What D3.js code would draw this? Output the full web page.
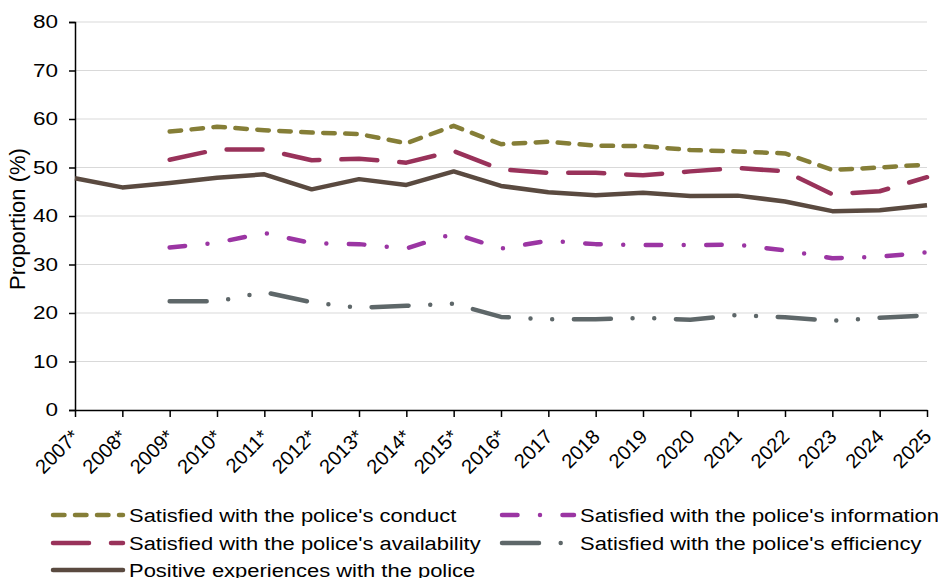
<!DOCTYPE html>
<html>
<head>
<meta charset="utf-8">
<script src="https://cdn.jsdelivr.net/npm/d3@7"></script>
<style>
  html, body { margin: 0; padding: 0; background: #fff; }
  svg { display: block; font-family: "Liberation Sans", Arial, sans-serif; }
</style>
</head>
<body>
<svg id="chart" width="938" height="578"></svg>
<script>
const years = ["2007*","2008*","2009*","2010*","2011*","2012*","2013*","2014*","2015*","2016*","2017","2018","2019","2020","2021","2022","2023","2024","2025"];
const yTicks = [0,10,20,30,40,50,60,70,80];

const conduct      = [null,null,57.4,58.4,57.7,57.2,56.9,55.0,58.6,54.8,55.3,54.5,54.4,53.6,53.3,52.9,49.5,50.0,50.6];
const availability = [null,null,51.6,53.7,53.7,51.5,51.8,51.0,53.4,49.6,48.9,48.9,48.4,49.2,49.9,49.2,44.5,45.1,48.0];
const positive     = [47.8,45.9,46.8,47.9,48.6,45.5,47.6,46.4,49.2,46.2,44.9,44.3,44.8,44.1,44.2,43.0,41.0,41.2,42.2];
const information  = [null,null,33.5,34.5,36.5,34.4,34.2,33.3,36.4,33.3,34.9,34.2,34.0,34.0,34.1,32.9,31.3,31.6,32.5];
const efficiency   = [null,null,22.4,22.4,24.3,22.2,21.1,21.5,21.9,19.2,18.7,18.7,19.0,18.6,19.6,19.1,18.4,19.0,19.5];

const seriesNames = [
  "Satisfied with the police's conduct",
  "Satisfied with the police's availability",
  "Positive experiences with the police",
  "Satisfied with the police's information",
  "Satisfied with the police's efficiency"
];

const series = [
  {name: seriesNames[0], values: conduct,      color: "#857e37", dash: "11.5,10.5"},
  {name: seriesNames[1], values: availability, color: "#99325a", dash: "36,22"},
  {name: seriesNames[2], values: positive,     color: "#5a4a40", dash: null},
  {name: seriesNames[3], values: information,  color: "#9b35a3", dash: "15.5,22.5,0,22.5"},
  {name: seriesNames[4], values: efficiency,   color: "#5e6769", dash: "37,21.7,0,21.7,0,21.7"}
];

const svg = d3.select("#chart");
const x = d3.scalePoint().domain(years).range([75, 927]);
const y = d3.scaleLinear().domain([0, 80]).range([410, 22]);

// gridlines
svg.append("g").selectAll("line").data(yTicks.filter(d => d > 0)).join("line")
  .attr("x1", 75).attr("x2", 927)
  .attr("y1", d => y(d)).attr("y2", d => y(d))
  .attr("stroke", "#d9d9d9").attr("stroke-width", 1);

// y axis
const yAxis = svg.append("g").attr("transform", "translate(75,0)")
  .call(d3.axisLeft(y).tickValues(yTicks).tickSize(6).tickPadding(5));
yAxis.select(".domain").attr("stroke", "#000").attr("stroke-width", 1.5);
yAxis.selectAll(".tick line").attr("stroke", "#000").attr("stroke-width", 1.5);
yAxis.selectAll("text")
  .attr("font-size", 18).attr("fill", "#000")
  .attr("font-family", "Liberation Sans, Arial, sans-serif")
  .attr("x", 0)
  .attr("transform", "translate(-17,0) scale(1.25,1)");

// x axis
const xAxis = svg.append("g").attr("transform", "translate(0,410)")
  .call(d3.axisBottom(x).tickSize(7).tickSizeOuter(0));
xAxis.select(".domain").attr("stroke", "#000").attr("stroke-width", 1.5);
xAxis.selectAll(".tick line").attr("stroke", "#000").attr("stroke-width", 1.5);
xAxis.selectAll("text")
  .attr("font-size", 20).attr("fill", "#000")
  .attr("font-family", "Liberation Sans, Arial, sans-serif")
  .attr("text-anchor", "end")
  .attr("dy", null)
  .attr("x", 0).attr("y", 0)
  .attr("transform", "translate(5,28) rotate(-45)");

// y axis title
svg.append("text")
  .attr("transform", "translate(25,219) rotate(-90)")
  .attr("text-anchor", "middle")
  .attr("font-size", 22)
  .attr("fill", "#000")
  .text("Proportion (%)");

// lines
const line = d3.line()
  .defined(d => d.v != null)
  .x(d => x(d.year))
  .y(d => y(d.v));

svg.append("g").selectAll("path").data(series).join("path")
  .attr("d", s => line(s.values.map((v, i) => ({year: years[i], v}))))
  .attr("fill", "none")
  .attr("stroke", s => s.color)
  .attr("stroke-width", 4.5)
  .attr("stroke-linecap", s => s.dash ? "round" : "butt")
  .attr("stroke-linejoin", "round")
  .attr("stroke-dasharray", s => s.dash);

// legend
const legendPos = [
  {x: 53, y: 515, w: 70}, {x: 53, y: 543, w: 70}, {x: 53, y: 570, w: 70},
  {x: 502, y: 515, w: 72}, {x: 502, y: 543, w: 72}
];
const lg = svg.append("g").selectAll("g").data(series).join("g")
  .attr("transform", (s, i) => `translate(${legendPos[i].x},${legendPos[i].y})`);
lg.append("line")
  .attr("x1", 0).attr("x2", (s, i) => legendPos[i].w).attr("y1", 0).attr("y2", 0)
  .attr("stroke", s => s.color).attr("stroke-width", 4.5)
  .attr("stroke-linecap", "round")
  .attr("stroke-dasharray", s => s.dash);
lg.append("text")
  .attr("x", 0).attr("y", 0).attr("dy", "0.36em")
  .attr("transform", (s, i) => `translate(${legendPos[i].w + 6},0) scale(1.155,1)`)
  .attr("font-size", 19).attr("fill", "#000")
  .text(s => s.name);
</script>
</body>
</html>
